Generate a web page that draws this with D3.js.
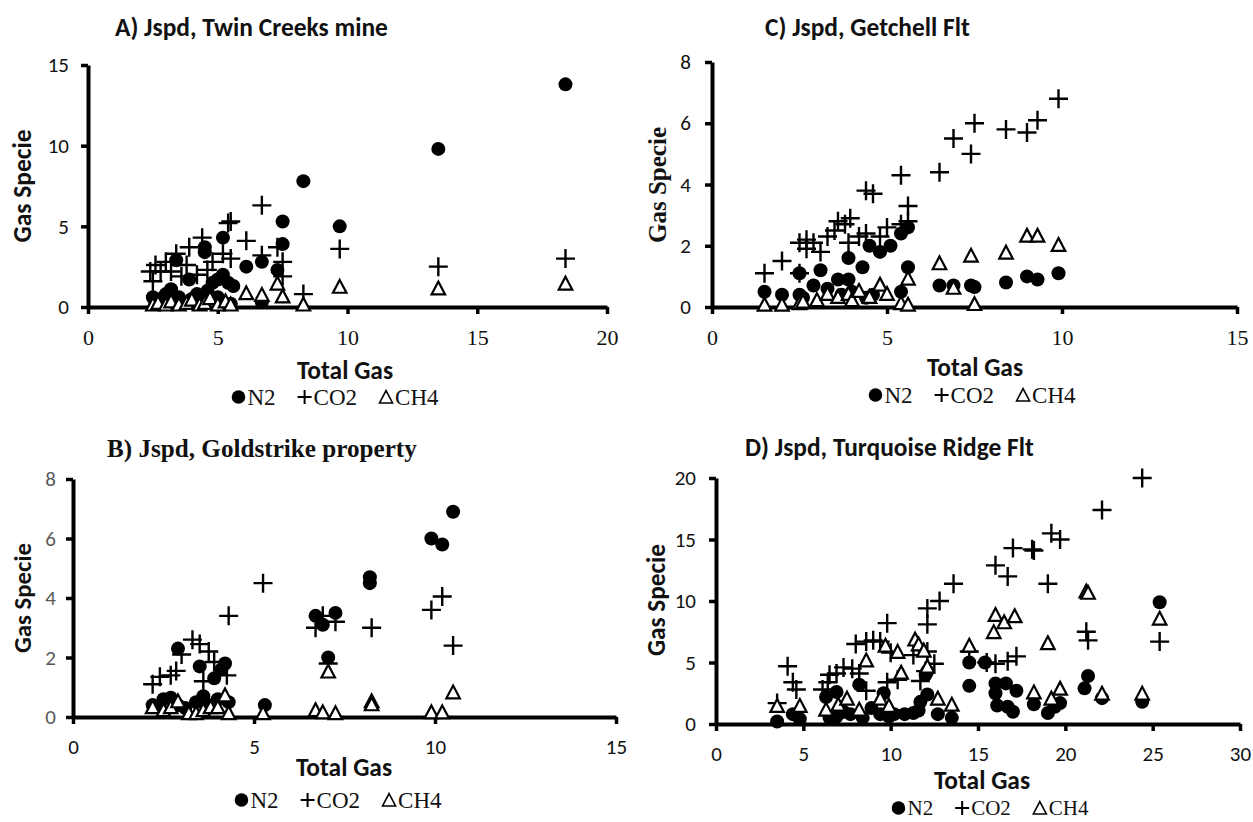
<!DOCTYPE html>
<html>
<head>
<meta charset="utf-8">
<script src="https://cdn.jsdelivr.net/npm/d3@7"></script>
<style>
body { margin: 0; background: #fff; }
</style>
</head>
<body>
<div id="chart"></div>
<script>
const SANS = "Carlito, Lato, 'Open Sans', sans-serif";
const SERIF = "'Liberation Serif', 'Times New Roman', serif";

// series names shared by all four panels
const legendLabels = ["N2", "CO2", "CH4"];

// A) Jspd, Twin Creeks mine  -- [total gas, gas specie]
const aN2 = [[2.5,0.6],[2.6,0.3],[2.8,0.5],[3.0,0.8],[3.2,1.1],[3.3,0.4],[3.4,2.9],[3.5,0.6],[3.7,0.2],[3.9,1.7],[4.0,0.5],[4.2,0.8],[4.4,0.3],[4.5,3.7],[4.5,3.4],[4.6,1.0],[4.8,1.5],[5.0,1.7],[5.0,0.6],[5.2,4.3],[5.2,2.0],[5.4,1.5],[5.5,0.2],[5.6,1.3],[6.1,2.5],[6.7,2.8],[6.7,0.3],[7.3,2.3],[7.5,5.3],[7.5,3.9],[8.3,7.8],[9.7,5.0],[13.5,9.8],[18.4,13.8]];
const aCO2 = [[2.4,2.2],[2.5,1.6],[2.6,2.6],[2.8,2.2],[3.0,2.8],[3.2,2.2],[3.4,3.3],[3.6,1.9],[3.8,2.6],[3.9,3.7],[4.2,2.0],[4.4,4.3],[4.6,2.3],[4.8,2.8],[5.0,0.3],[5.2,3.3],[5.4,5.2],[5.5,3.0],[5.5,5.3],[6.1,4.1],[6.7,6.3],[6.7,3.2],[7.3,3.7],[7.5,2.8],[7.5,1.9],[8.3,0.8],[9.7,3.6],[13.5,2.5],[18.4,3.0]];
const aCH4 = [[2.5,0.1],[2.7,0.2],[3.0,0.1],[3.2,0.3],[3.5,0.1],[3.8,0.2],[4.0,0.4],[4.3,0.1],[4.5,0.2],[4.7,0.5],[5.0,0.1],[5.3,0.3],[5.5,0.1],[6.1,0.8],[6.7,0.7],[7.3,1.4],[7.5,0.6],[8.3,0.1],[9.7,1.2],[13.5,1.1],[18.4,1.4]];
const aXTicks = [0, 5, 10, 15, 20];
const aYTicks = [0, 5, 10, 15];

// B) Jspd, Goldstrike property
const bN2 = [[2.2,0.4],[2.4,0.3],[2.5,0.6],[2.7,0.65],[2.9,2.3],[2.9,0.4],[3.1,0.3],[3.4,0.5],[3.5,1.7],[3.6,0.7],[3.7,0.4],[3.9,1.3],[4.0,0.6],[4.1,1.6],[4.2,1.8],[4.3,0.5],[5.3,0.4],[6.7,3.4],[6.9,3.1],[7.05,2.0],[7.25,3.5],[8.2,4.7],[8.2,4.5],[9.9,6.0],[10.2,5.8],[10.5,6.9]];
const bCO2 = [[2.2,1.1],[2.4,1.35],[2.7,1.4],[2.85,1.55],[3.0,2.1],[3.3,2.6],[3.5,2.45],[3.6,1.2],[3.75,2.2],[3.9,1.85],[4.25,1.4],[4.3,3.4],[5.25,4.5],[6.7,3.0],[6.9,3.4],[7.05,1.8],[7.25,3.2],[8.25,3.0],[9.9,3.6],[10.2,4.05],[10.5,2.4]];
const bCH4 = [[2.2,0.3],[2.5,0.2],[2.7,0.3],[2.9,0.5],[3.2,0.1],[3.4,0.1],[3.6,0.2],[3.8,0.3],[4.0,0.3],[4.2,0.7],[4.3,0.1],[5.25,0.1],[6.7,0.2],[6.9,0.13],[7.05,1.5],[7.25,0.1],[8.25,0.5],[8.25,0.4],[9.9,0.13],[10.2,0.13],[10.5,0.8]];
const bXTicks = [0, 5, 10, 15];
const bYTicks = [0, 2, 4, 6, 8];

// C) Jspd, Getchell Flt
const cN2 = [[1.5,0.5],[2.0,0.4],[2.5,1.1],[2.5,0.4],[2.6,0.3],[2.9,0.7],[3.1,1.2],[3.3,0.6],[3.6,0.9],[3.7,0.4],[3.9,1.6],[3.9,0.9],[4.0,0.5],[4.3,1.3],[4.4,0.3],[4.5,2.0],[4.6,0.4],[4.8,1.8],[5.1,2.0],[5.4,2.4],[5.4,0.5],[5.6,2.6],[5.6,1.3],[6.5,0.7],[6.9,0.7],[7.4,0.7],[7.5,0.65],[8.4,0.8],[9.0,1.0],[9.3,0.9],[9.9,1.1]];
const cCO2 = [[1.5,1.1],[2.0,1.5],[2.5,1.1],[2.5,2.1],[2.7,2.2],[2.7,1.9],[2.9,2.1],[3.1,1.8],[3.3,2.3],[3.5,2.5],[3.6,2.8],[3.8,2.7],[3.9,2.1],[3.95,2.9],[4.2,2.3],[4.4,2.4],[4.4,3.8],[4.6,3.7],[4.8,2.3],[5.0,2.6],[5.4,2.7],[5.4,4.3],[5.6,2.8],[5.6,3.3],[6.5,4.4],[6.9,5.5],[7.4,5.0],[7.5,6.0],[8.4,5.8],[9.0,5.7],[9.3,6.1],[9.9,6.8]];
const cCH4 = [[1.5,0.05],[2.0,0.05],[2.5,0.1],[2.6,0.15],[3.0,0.2],[3.3,0.4],[3.6,0.3],[3.9,0.4],[4.0,0.2],[4.2,0.5],[4.5,0.3],[4.8,0.7],[5.0,0.4],[5.4,0.1],[5.6,0.9],[5.6,0.05],[6.5,1.4],[6.9,0.6],[7.4,1.65],[7.5,0.07],[8.4,1.75],[9.0,2.3],[9.3,2.3],[9.9,2.0]];
const cXTicks = [0, 5, 10, 15];
const cYTicks = [0, 2, 4, 6, 8];

// D) Jspd, Turquoise Ridge Flt
const dN2 = [[3.5,0.2],[4.4,0.8],[4.8,0.4],[6.3,2.2],[6.5,0.5],[6.9,2.6],[6.9,0.6],[7.3,1.0],[7.7,0.8],[8.2,3.2],[8.4,0.5],[8.9,1.3],[9.4,0.8],[9.6,2.5],[9.9,0.6],[10.2,0.8],[10.8,0.8],[11.3,0.9],[11.6,1.1],[11.7,1.8],[12.0,4.0],[12.1,4.3],[12.1,2.4],[12.7,0.8],[13.5,0.5],[14.5,5.0],[14.5,3.1],[15.4,5.0],[16.0,3.3],[16.0,2.5],[16.1,1.5],[16.6,3.3],[16.7,1.4],[17.0,1.0],[17.2,2.7],[18.2,1.6],[19.0,0.9],[19.4,1.4],[19.7,1.7],[21.1,2.9],[21.3,3.9],[22.1,2.1],[24.4,1.8],[25.4,9.9]];
const dCO2 = [[3.5,1.7],[4.1,4.7],[4.4,3.4],[4.6,2.8],[6.1,2.8],[6.4,3.4],[6.5,4.0],[6.9,4.1],[7.3,4.6],[7.8,4.5],[8.0,6.5],[8.2,4.1],[8.6,6.7],[8.6,2.7],[9.0,6.8],[9.4,6.7],[9.8,8.2],[9.8,3.4],[10.0,5.8],[10.4,3.6],[11.3,5.6],[11.7,3.5],[12.0,4.3],[12.1,9.4],[12.1,8.1],[12.1,5.9],[12.5,4.9],[12.8,10.0],[13.6,11.4],[14.5,5.9],[15.5,5.0],[16.0,12.9],[16.0,4.9],[16.7,12.0],[16.7,5.1],[17.0,14.3],[17.2,5.5],[18.1,14.2],[18.2,14.1],[19.0,11.4],[19.2,15.5],[19.7,15.0],[21.2,7.5],[21.3,6.8],[22.1,17.4],[24.4,20.0],[25.4,6.7]];
const dCH4 = [[3.5,1.4],[4.8,1.4],[6.3,1.1],[7.0,1.5],[7.5,2.0],[8.2,1.1],[8.6,5.1],[9.4,2.0],[9.7,6.3],[9.9,1.4],[10.4,5.8],[10.6,4.1],[11.4,6.8],[11.6,6.4],[11.9,5.9],[12.1,4.6],[12.7,2.0],[13.5,1.5],[14.5,6.3],[15.9,7.4],[16.0,8.8],[16.5,8.2],[17.1,8.7],[18.2,2.5],[19.0,6.5],[19.2,2.0],[19.7,2.8],[21.2,10.7],[21.3,10.6],[22.1,2.4],[24.4,2.4],[25.4,8.5]];
const dXTicks = [0, 5, 10, 15, 20, 25, 30];
const dYTicks = [0, 5, 10, 15, 20];

const svg = d3.select("#chart")
    .append("svg")
    .attr("width", 1253)
    .attr("height", 822);

function fitText(sel, width) {
    const len = sel.node().getComputedTextLength();
    const fs = parseFloat(sel.attr("font-size")) * width / len;
    sel.attr("font-size", fs.toFixed(2));
    return fs;
}

function plusPath(r) {
    return `M${-r},0H${r}M0,${-r}V${r}`;
}

function triPath(w) {
    const h = w * 0.95;
    return `M0,${-h * 0.6}L${w / 2},${h * 0.4}L${-w / 2},${h * 0.4}Z`;
}

function drawMarkers(g, x, y, n2, co2, ch4) {
    g.append("g").selectAll("circle")
        .data(n2)
        .join("circle")
        .attr("cx", d => x(d[0]))
        .attr("cy", d => y(d[1]))
        .attr("r", 7)
        .attr("fill", "#000");

    g.append("g").selectAll("path")
        .data(co2)
        .join("path")
        .attr("d", plusPath(9.5))
        .attr("transform", d => `translate(${x(d[0])},${y(d[1])})`)
        .attr("stroke", "#000")
        .attr("stroke-width", 2.4)
        .attr("fill", "none");

    g.append("g").selectAll("path")
        .data(ch4)
        .join("path")
        .attr("d", triPath(13.5))
        .attr("transform", d => `translate(${x(d[0])},${y(d[1])})`)
        .attr("stroke", "#000")
        .attr("stroke-width", 2.2)
        .attr("fill", "#fff");
}

function drawLegend(cx, cy, size) {
    const g = svg.append("g");
    let pos = 0;
    legendLabels.forEach((label, i) => {
        const sym = g.append("g").attr("transform", `translate(${pos + 7},${cy})`);
        if (i === 0) {
            sym.append("circle").attr("r", 6.8).attr("fill", "#000");
        } else if (i === 1) {
            sym.append("path").attr("d", plusPath(7)).attr("stroke", "#000").attr("stroke-width", 2).attr("fill", "none");
        } else {
            sym.append("path").attr("d", triPath(13)).attr("transform", "translate(0,1)")
                .attr("stroke", "#000").attr("stroke-width", 1.6).attr("fill", "none");
        }
        const t = g.append("text")
            .attr("x", pos + 16)
            .attr("y", cy)
            .attr("dy", "0.35em")
            .attr("font-family", SERIF)
            .attr("font-size", size)
            .attr("fill", "#111")
            .text(label);
        pos += 16 + t.node().getComputedTextLength() + 22;
    });
    pos -= 22;
    g.attr("transform", `translate(${cx - pos / 2},0)`);
}

function drawPanel(p) {
    const x = d3.scaleLinear().domain(p.xDomain).range(p.xRange);
    const y = d3.scaleLinear().domain(p.yDomain).range(p.yRange);
    const g = svg.append("g");

    const xAxis = g.append("g")
        .attr("transform", `translate(0,${p.yRange[0]})`)
        .call(d3.axisBottom(x).tickValues(p.xTicks).tickSize(7).tickSizeOuter(0).tickPadding(15));
    xAxis.attr("font-family", p.xTickFont).attr("font-size", p.xTickFont === SERIF ? 22 : 21);

    const yAxis = g.append("g")
        .attr("transform", `translate(${p.xRange[0]},0)`)
        .call(d3.axisLeft(y).tickValues(p.yTicks).tickSize(7).tickSizeOuter(0).tickPadding(p.yPad));
    yAxis.attr("font-family", SANS).attr("font-size", 21);

    [xAxis, yAxis].forEach(a => {
        a.select(".domain").attr("stroke", "#000").attr("stroke-width", 4);
        a.selectAll(".tick line").attr("stroke", "#000").attr("stroke-width", 3.5);
        a.selectAll(".tick text").attr("fill", "#111");
    });
    yAxis.selectAll(".tick text").attr("fill", p.yTickColor);

    drawMarkers(g, x, y, p.n2, p.co2, p.ch4);

    const title = svg.append("text")
        .attr("x", p.title[1])
        .attr("y", p.title[2])
        .attr("dy", "0.35em")
        .attr("font-family", p.titleFont)
        .attr("font-weight", "bold")
        .attr("font-size", 20)
        .attr("fill", "#111")
        .text(p.title[0]);
    if (p.titleWidth) fitText(title, p.titleWidth);
    else title.attr("font-size", titleSize);

    const yl = svg.append("text")
        .attr("transform", `translate(${p.yLabel[0]},${p.yLabel[1]}) rotate(-90)`)
        .attr("text-anchor", "middle")
        .attr("dy", "0.35em")
        .attr("font-family", p.yLabelFont)
        .attr("font-weight", "bold")
        .attr("font-size", 20)
        .attr("fill", "#111")
        .text("Gas Specie");
    fitText(yl, p.yLabelWidth);

    svg.append("text")
        .attr("x", p.xLabel[0])
        .attr("y", p.xLabel[1])
        .attr("text-anchor", "middle")
        .attr("dy", "0.35em")
        .attr("font-family", SANS)
        .attr("font-weight", "bold")
        .attr("font-size", titleSize)
        .attr("fill", "#111")
        .text("Total Gas");

    drawLegend(p.legend[0], p.legend[1], p.legend[2]);
}

// size the sans titles from panel A, reuse for the others
const probe = svg.append("text")
    .attr("font-family", SANS).attr("font-weight", "bold").attr("font-size", 20)
    .text("A) Jspd, Twin Creeks mine");
const titleSize = fitText(probe, 273);
probe.remove();

drawPanel({
    xDomain: [0, 20], yDomain: [0, 15], xRange: [88, 607], yRange: [307, 65],
    xTicks: aXTicks, yTicks: aYTicks, xTickFont: SERIF, yPad: 12, yTickColor: "#111",
    n2: aN2, co2: aCO2, ch4: aCH4,
    title: ["A) Jspd, Twin Creeks mine", 115, 27], titleFont: SANS,
    yLabel: [22, 186], yLabelFont: SANS, yLabelWidth: 113,
    xLabel: [345, 370], legend: [335, 397, 23]
});

drawPanel({
    xDomain: [0, 15], yDomain: [0, 8], xRange: [73, 616], yRange: [717, 479],
    xTicks: bXTicks, yTicks: bYTicks, xTickFont: SANS, yPad: 10, yTickColor: "#595959",
    n2: bN2, co2: bCO2, ch4: bCH4,
    title: ["B) Jspd, Goldstrike property", 107, 448], titleFont: SERIF, titleWidth: 310,
    yLabel: [22, 598], yLabelFont: SANS, yLabelWidth: 110,
    xLabel: [344, 767], legend: [338, 800, 23]
});

drawPanel({
    xDomain: [0, 15], yDomain: [0, 8], xRange: [712, 1237], yRange: [307, 62],
    xTicks: cXTicks, yTicks: cYTicks, xTickFont: SERIF, yPad: 14, yTickColor: "#111",
    n2: cN2, co2: cCO2, ch4: cCH4,
    title: ["C) Jspd, Getchell Flt", 765, 27], titleFont: SANS,
    yLabel: [657, 185], yLabelFont: SERIF, yLabelWidth: 116,
    xLabel: [975, 367], legend: [972, 395, 23]
});

drawPanel({
    xDomain: [0, 30], yDomain: [0, 20], xRange: [716, 1240], yRange: [724, 478],
    xTicks: dXTicks, yTicks: dYTicks, xTickFont: SANS, yPad: 13, yTickColor: "#111",
    n2: dN2, co2: dCO2, ch4: dCH4,
    title: ["D) Jspd, Turquoise Ridge Flt", 745, 447], titleFont: SANS,
    yLabel: [656, 600], yLabelFont: SANS, yLabelWidth: 112,
    xLabel: [982, 780], legend: [990, 808, 21]
});
</script>
</body>
</html>
